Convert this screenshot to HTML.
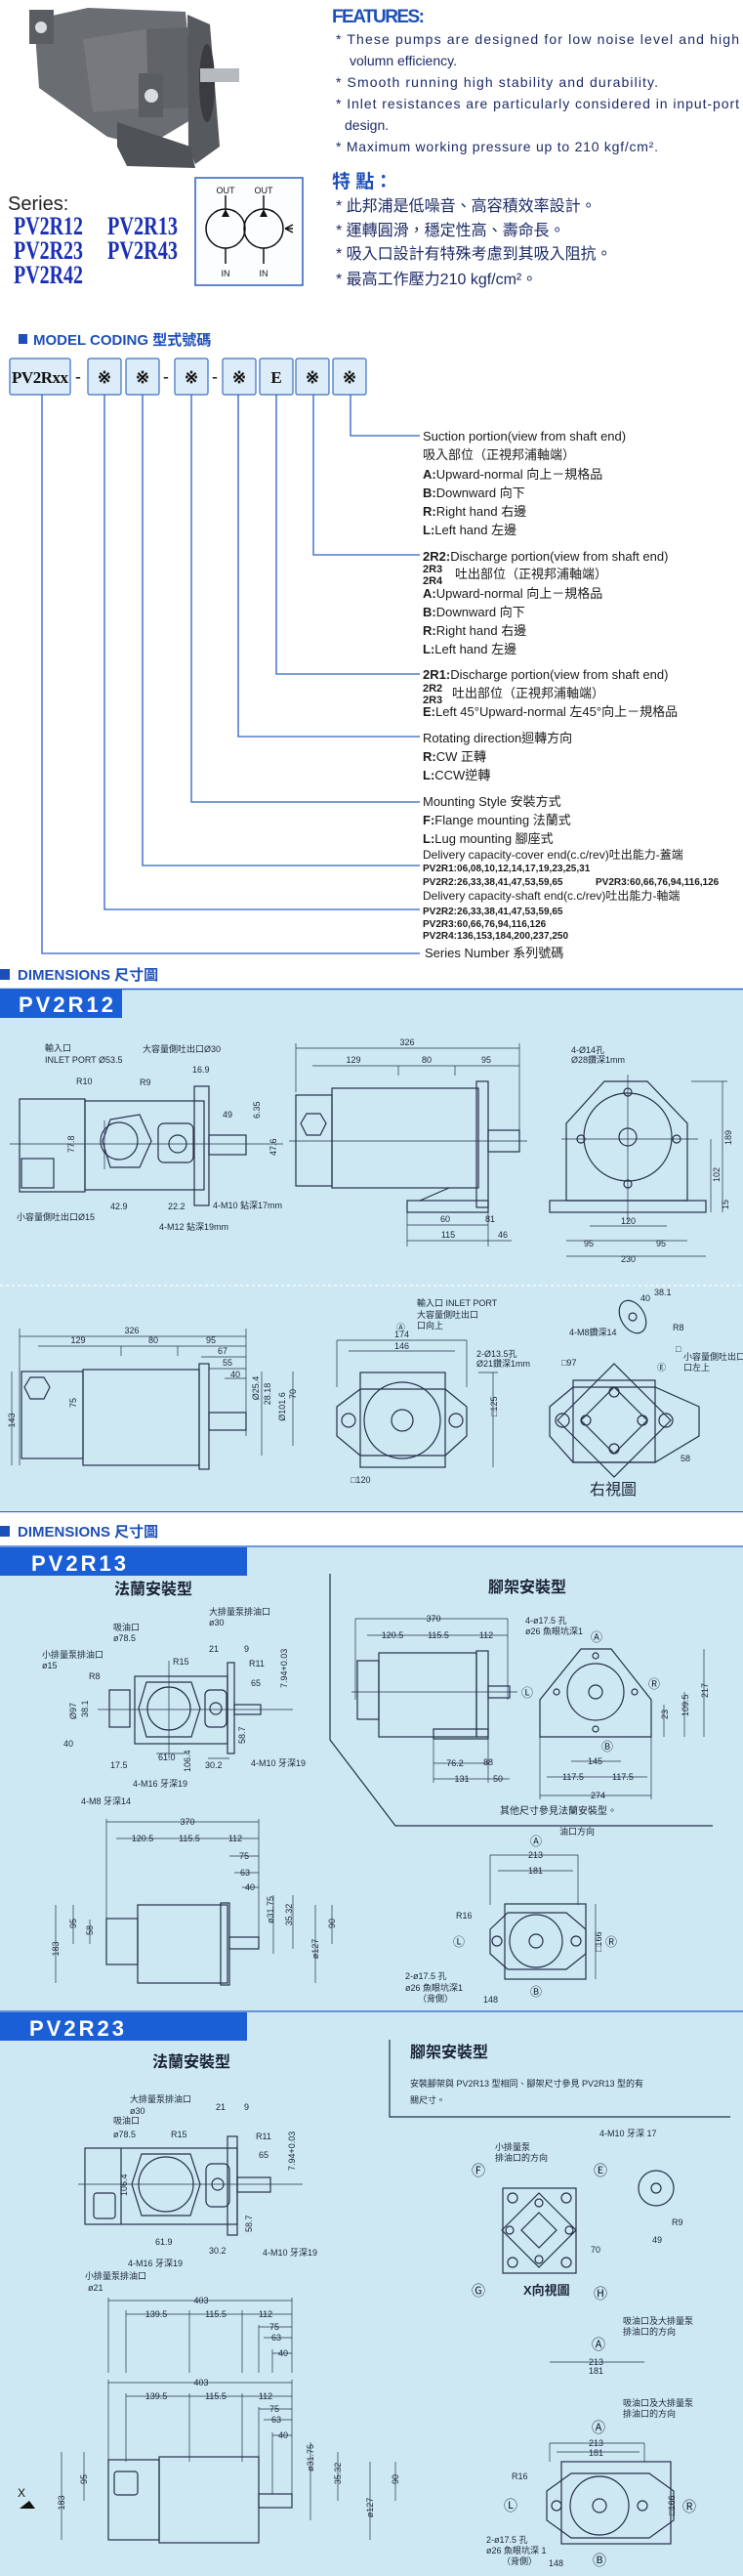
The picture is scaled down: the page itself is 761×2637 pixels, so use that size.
<!DOCTYPE html>
<html><head><meta charset="utf-8"><style>
html,body{margin:0;padding:0;background:#fff}
svg{display:block}
.l{stroke:#26304a;fill:none;stroke-width:1.2}
.d{stroke:#26304a;fill:none;stroke-width:.7}
.t{font-family:"Liberation Sans","Noto Sans CJK TC",sans-serif;font-size:9px;fill:#1b2438}
.m{font-family:"Liberation Sans","Noto Sans CJK TC",sans-serif;font-size:13px;fill:#1a1a1a}
.mb{font-family:"Liberation Sans","Noto Sans CJK TC",sans-serif;font-size:10px;font-weight:bold;fill:#1a1a1a}
.ft{font-family:"Liberation Sans","Noto Sans CJK TC",sans-serif;font-size:14px;fill:#1c2b66}
.fc{font-family:"Liberation Sans","Noto Sans CJK TC",sans-serif;font-size:16px;fill:#1c2b66}
.h{font-family:"Liberation Sans","Noto Sans CJK TC",sans-serif;font-size:15px;font-weight:bold;fill:#1d4fb8}
.tab{font-family:"Liberation Sans",sans-serif;font-size:22px;font-weight:bold;fill:#fff;letter-spacing:3px}
.ser{font-family:"Liberation Serif",serif;font-size:26px;font-weight:bold;fill:#1a2fb5}
.cn{font-family:"Liberation Sans","Noto Sans CJK TC",sans-serif;font-size:16px;font-weight:bold;fill:#1b2438}
</style></head><body>
<svg width="761" height="2637" viewBox="0 0 761 2637" xmlns="http://www.w3.org/2000/svg">
<rect width="761" height="2637" fill="#fff"/>

<!-- pump photo -->
<polygon points="35,20 90,8 190,12 200,120 150,150 110,140 40,90" fill="#6a6d72"/>
<polygon points="85,40 150,30 152,110 95,115" fill="#77797e"/>
<polygon points="150,30 192,28 195,110 152,112" fill="#606367"/>
<polygon points="192,15 215,25 225,150 200,168 193,150" fill="#56595d"/>
<ellipse cx="212" cy="85" rx="8" ry="40" fill="#3a3c3f"/>
<rect x="205" y="70" width="40" height="14" fill="#b6b9bd"/>
<polygon points="120,125 195,150 200,172 130,170 120,150" fill="#4f5256"/>
<rect x="30" y="10" width="25" height="35" fill="#5a5d62"/>
<circle cx="42" cy="28" r="6" fill="#d9dce0"/>
<rect x="142" y="75" width="25" height="45" fill="#5a5d62"/>
<circle cx="155" cy="98" r="7" fill="#d9dce0"/>

<!-- features -->
<text x="340" y="23" font-family="Liberation Sans,sans-serif" font-size="19" font-weight="bold" fill="#1d4fb8" textLength="95">FEATURES:</text>
<g class="ft">
<text x="344" y="45" textLength="413">* These pumps are designed for low noise level and high</text>
<text x="358" y="67">volumn efficiency.</text>
<text x="344" y="89" textLength="330">* Smooth running high stability and durability.</text>
<text x="344" y="111" textLength="413">* Inlet resistances are particularly considered in input-port</text>
<text x="353" y="133">design.</text>
<text x="344" y="155" textLength="330">* Maximum working pressure up to 210 kgf/cm².</text>
</g>
<text x="340" y="192" font-family="Liberation Sans,Noto Sans CJK TC,sans-serif" font-size="19" font-weight="bold" fill="#1d4fb8">特 點：</text>
<g class="fc">
<text x="344" y="216">* 此邦浦是低噪音、高容積效率設計。</text>
<text x="344" y="241">* 運轉圓滑，穩定性高、壽命長。</text>
<text x="344" y="265">* 吸入口設計有特殊考慮到其吸入阻抗。</text>
<text x="344" y="291">* 最高工作壓力210 kgf/cm²。</text>
</g>

<!-- series -->
<text x="8" y="215" font-family="Liberation Sans,sans-serif" font-size="20" fill="#222">Series:</text>
<text class="ser" x="14" y="240" textLength="71" lengthAdjust="spacingAndGlyphs">PV2R12</text>
<text class="ser" x="110" y="240" textLength="72" lengthAdjust="spacingAndGlyphs">PV2R13</text>
<text class="ser" x="14" y="265" textLength="71" lengthAdjust="spacingAndGlyphs">PV2R23</text>
<text class="ser" x="110" y="265" textLength="72" lengthAdjust="spacingAndGlyphs">PV2R43</text>
<text class="ser" x="14" y="290" textLength="71" lengthAdjust="spacingAndGlyphs">PV2R42</text>

<rect x="200" y="182" width="110" height="110" fill="#fbfdff" stroke="#2f5fc0" stroke-width="1.5"/>
<g stroke="#111" stroke-width="1.5" fill="none">
<circle cx="231" cy="234" r="20"/><circle cx="270" cy="234" r="20"/>
<line x1="231" y1="200" x2="231" y2="214"/><line x1="270" y1="200" x2="270" y2="214"/>
<line x1="231" y1="254" x2="231" y2="270"/><line x1="270" y1="254" x2="270" y2="270"/>
<path d="M292 234 l8 -4 M292 234 l8 0 M292 234 l8 4"/>
</g>
<polygon points="231,214 227,222 235,222" fill="#111"/><polygon points="270,214 266,222 274,222" fill="#111"/>
<g font-family="Liberation Sans,sans-serif" font-size="9" fill="#111" text-anchor="middle">
<text x="231" y="198">OUT</text><text x="270" y="198">OUT</text><text x="231" y="283">IN</text><text x="270" y="283">IN</text></g>

<!-- model coding -->
<rect x="19" y="342" width="9" height="10" fill="#1d4fb8"/>
<text class="h" x="34" y="353" font-size="14">MODEL CODING 型式號碼</text>
<g fill="#dcecf8" stroke="#3b6fc4" stroke-width="1.2">
<rect x="10" y="367" width="62" height="37" rx="2"/>
<rect x="90" y="367" width="34" height="37" rx="2"/><rect x="129" y="367" width="34" height="37" rx="2"/>
<rect x="179" y="367" width="34" height="37" rx="2"/><rect x="228" y="367" width="34" height="37" rx="2"/>
<rect x="266" y="367" width="34" height="37" rx="2"/><rect x="303" y="367" width="34" height="37" rx="2"/><rect x="341" y="367" width="34" height="37" rx="2"/>
</g>
<g font-family="Liberation Serif,serif" font-weight="bold" font-size="17" fill="#111" text-anchor="middle">
<text x="41" y="392" textLength="58">PV2Rxx</text><text x="80" y="391">-</text><text x="170" y="391">-</text><text x="220" y="391">-</text>
<text x="107" y="392">※</text><text x="146" y="392">※</text><text x="196" y="392">※</text><text x="245" y="392">※</text>
<text x="283" y="392">E</text><text x="320" y="392">※</text><text x="358" y="392">※</text>
</g>
<g stroke="#2a60c8" stroke-width="1.3" fill="none">
<path d="M359 404 V446 H430"/><path d="M321 404 V568 H430"/><path d="M283 404 V690 H430"/>
<path d="M244 404 V754 H430"/><path d="M196 404 V821 H430"/><path d="M146 404 V886 H430"/>
<path d="M107 404 V931 H430"/><path d="M43 404 V976 H430"/>
</g>
<g class="m">
<text x="433" y="451">Suction portion(view from shaft end)</text>
<text x="433" y="470">吸入部位（正視邦浦軸端）</text>
<text x="433" y="490"><tspan font-weight="bold">A:</tspan>Upward-normal 向上－規格品</text>
<text x="433" y="509"><tspan font-weight="bold">B:</tspan>Downward 向下</text>
<text x="433" y="528"><tspan font-weight="bold">R:</tspan>Right hand 右邊</text>
<text x="433" y="547"><tspan font-weight="bold">L:</tspan>Left hand 左邊</text>
<text x="433" y="574"><tspan font-weight="bold">2R2:</tspan>Discharge portion(view from shaft end)</text>
<text x="433" y="586" font-weight="bold" font-size="11">2R3</text>
<text x="466" y="592">吐出部位（正視邦浦軸端）</text>
<text x="433" y="598" font-weight="bold" font-size="11">2R4</text>
<text x="433" y="612"><tspan font-weight="bold">A:</tspan>Upward-normal 向上－規格品</text>
<text x="433" y="631"><tspan font-weight="bold">B:</tspan>Downward 向下</text>
<text x="433" y="650"><tspan font-weight="bold">R:</tspan>Right hand 右邊</text>
<text x="433" y="669"><tspan font-weight="bold">L:</tspan>Left hand 左邊</text>
<text x="433" y="695"><tspan font-weight="bold">2R1:</tspan>Discharge portion(view from shaft end)</text>
<text x="433" y="708" font-weight="bold" font-size="11">2R2</text>
<text x="463" y="714">吐出部位（正視邦浦軸端）</text>
<text x="433" y="720" font-weight="bold" font-size="11">2R3</text>
<text x="433" y="733"><tspan font-weight="bold">E:</tspan>Left 45°Upward-normal 左45°向上－規格品</text>
<text x="433" y="760">Rotating direction迴轉方向</text>
<text x="433" y="779"><tspan font-weight="bold">R:</tspan>CW 正轉</text>
<text x="433" y="798"><tspan font-weight="bold">L:</tspan>CCW逆轉</text>
<text x="433" y="825">Mounting Style 安裝方式</text>
<text x="433" y="844"><tspan font-weight="bold">F:</tspan>Flange mounting 法蘭式</text>
<text x="433" y="863"><tspan font-weight="bold">L:</tspan>Lug mounting 腳座式</text>
<text x="433" y="879" font-size="12">Delivery capacity-cover end(c.c/rev)吐出能力-蓋端</text>
<text x="433" y="921" font-size="12">Delivery capacity-shaft end(c.c/rev)吐出能力-軸端</text>
<text x="435" y="980">Series Number 系列號碼</text>
</g>
<g class="mb">
<text x="433" y="892">PV2R1:06,08,10,12,14,17,19,23,25,31</text>
<text x="433" y="906">PV2R2:26,33,38,41,47,53,59,65</text><text x="610" y="906">PV2R3:60,66,76,94,116,126</text>
<text x="433" y="936">PV2R2:26,33,38,41,47,53,59,65</text>
<text x="433" y="949">PV2R3:60,66,76,94,116,126</text>
<text x="433" y="961">PV2R4:136,153,184,200,237,250</text>
</g>

<!-- DIMENSIONS PV2R12 -->
<rect x="0" y="992" width="10" height="11" fill="#1d4fb8"/>
<text class="h" x="18" y="1003">DIMENSIONS 尺寸圖</text>
<rect x="0" y="1013" width="761" height="533" fill="#cde8f3"/>
<line x1="0" y1="1012.5" x2="761" y2="1012.5" stroke="#2a60c8" stroke-width="1.5"/>
<rect x="0" y="1013" width="125" height="29" fill="#1b5fd6"/>
<text class="tab" x="19" y="1036">PV2R12</text>

<g class="l">
<rect x="20" y="1125" width="67" height="95"/><rect x="87" y="1127" width="122" height="91"/>
<rect x="199" y="1112" width="15" height="122"/><rect x="214" y="1162" width="38" height="20"/>
<polygon points="105,1168 113,1146 143,1141 155,1168 143,1195 113,1195"/>
<circle cx="122" cy="1168" r="19"/>
<rect x="162" y="1150" width="36" height="40" rx="6"/><circle cx="182" cy="1171" r="9"/>
<rect x="22" y="1186" width="33" height="30"/>
</g>
<g class="d"><path d="M10 1171 H290 M107 1147 V1197"/></g>
<g class="t">
<text x="46" y="1076">輸入口</text><text x="46" y="1088">INLET PORT Ø53.5</text>
<text x="146" y="1077">大容量側吐出口Ø30</text><text x="197" y="1098">16.9</text>
<text x="78" y="1110">R10</text><text x="143" y="1111">R9</text><text x="228" y="1144">49</text>
<text transform="translate(266,1145) rotate(-90)">6.35</text>
<text transform="translate(76,1180) rotate(-90)">77.8</text>
<text transform="translate(283,1183) rotate(-90)">47.6</text>
<text x="113" y="1238">42.9</text><text x="172" y="1238">22.2</text>
<text x="218" y="1237">4-M10 鉆深17mm</text><text x="17" y="1249">小容量側吐出口Ø15</text>
<text x="163" y="1259">4-M12 鉆深19mm</text>
</g>
<g class="l">
<rect x="303" y="1121" width="37" height="93"/><rect x="340" y="1114" width="150" height="102"/>
<rect x="488" y="1107" width="12" height="129"/><rect x="500" y="1157" width="32" height="22"/>
<rect x="417" y="1229" width="83" height="12"/>
<polygon points="308,1150 314,1140 328,1140 334,1150 328,1162 314,1162"/>
<path d="M460 1216 L430 1229"/>
</g>
<g class="d"><path d="M303 1073 H532 M320 1091 H532 M408 1091 v10 M466 1091 v10 M303 1068 v50 M532 1068 v90 M417 1254 H500 M417 1270 H524 M417 1241 v35 M500 1241 v35 M296 1168 H540"/></g>
<g class="t" text-anchor="middle">
<text x="417" y="1070">326</text><text x="362" y="1088">129</text><text x="437" y="1088">80</text><text x="498" y="1088">95</text>
<text x="456" y="1251">60</text><text x="502" y="1251">81</text><text x="459" y="1267">115</text><text x="515" y="1267">46</text>
</g>
<g class="l">
<polygon points="619,1107 663,1107 704,1150 704,1229 580,1229 580,1150"/>
<rect x="563" y="1229" width="160" height="12"/>
<circle cx="643" cy="1164" r="45"/><circle cx="643" cy="1164" r="9"/>
<circle cx="643" cy="1118" r="4"/><circle cx="643" cy="1212" r="4"/><circle cx="595" cy="1166" r="4"/><circle cx="693" cy="1166" r="4"/>
</g>
<g class="d"><path d="M575 1166 H715 M643 1100 V1250 M580 1286 H723 M580 1270 H704 M604 1255 H683 M740 1107 V1241 M728 1166 V1241 M708 1107 H745"/></g>
<g class="t">
<text x="585" y="1078">4-Ø14孔</text><text x="585" y="1088">Ø28鑽深1mm</text>
<text transform="translate(749,1172) rotate(-90)">189</text>
<text transform="translate(737,1210) rotate(-90)">102</text>
<text transform="translate(746,1238) rotate(-90)">15</text>
<text x="636" y="1253">120</text><text x="598" y="1276">95</text><text x="672" y="1276">95</text><text x="636" y="1292">230</text>
</g>
<line x1="0" y1="1316" x2="761" y2="1316" stroke="#fff" stroke-width="1.2" stroke-dasharray="3,3"/>
<g class="l">
<rect x="22" y="1404" width="63" height="89"/><rect x="85" y="1402" width="119" height="98"/>
<rect x="204" y="1396" width="10" height="108"/><rect x="214" y="1446" width="38" height="18"/>
<polygon points="25,1420 31,1410 45,1410 51,1420 45,1432 31,1432"/>
</g>
<g class="d"><path d="M20 1368 H252 M39 1378 H252 M124 1378 v10 M182 1378 v10 M206 1389 H252 M214 1401 H252 M230 1411 H252 M20 1360 V1500 M252 1360 V1470 M12 1404 V1500 M268 1404 V1490 M300 1404 V1480"/></g>
<g class="t" text-anchor="middle">
<text x="135" y="1365">326</text><text x="80" y="1375">129</text><text x="157" y="1375">80</text><text x="216" y="1375">95</text>
<text x="228" y="1386">67</text><text x="233" y="1398">55</text><text x="241" y="1410">40</text>
<text transform="translate(15,1454) rotate(-90)">143</text><text transform="translate(78,1436) rotate(-90)">75</text>
<text transform="translate(265,1421) rotate(-90)">Ø25.4</text><text transform="translate(277,1427) rotate(-90)">28.18</text>
<text transform="translate(292,1440) rotate(-90)">Ø101.6</text><text transform="translate(303,1427) rotate(-90)">70</text>
</g>
<g class="l">
<rect x="369" y="1405" width="87" height="97"/>
<polygon points="345,1440 369,1422 456,1422 478,1440 478,1470 456,1490 369,1490 345,1470"/>
<circle cx="412" cy="1454" r="39"/><circle cx="412" cy="1454" r="11"/>
<circle cx="357" cy="1454" r="7"/><circle cx="467" cy="1454" r="7"/>
</g>
<g class="d"><path d="M345 1372 H478 M357 1383 H466 M345 1372 V1420 M478 1372 V1420 M490 1405 H510 M505 1405 V1502"/></g>
<g class="t">
<text x="427" y="1337">輸入口 INLET PORT</text><text x="427" y="1349">大容量側吐出口</text><text x="427" y="1360">口向上</text>
<text x="406" y="1362">Ⓐ</text><text x="404" y="1369">174</text><text x="404" y="1381">146</text>
<text x="488" y="1389">2-Ø13.5孔</text><text x="488" y="1399">Ø21鑽深1mm</text>
<text transform="translate(509,1450) rotate(-90)">□125</text><text x="359" y="1518">□120</text>
</g>
<g class="l">
<rect x="587" y="1413" width="84" height="84"/>
<polygon points="563,1440 587,1420 671,1420 716,1440 716,1470 671,1497 587,1497 563,1470"/>
<polygon points="629,1396 687,1454 629,1512 571,1454"/>
<polygon points="629,1420 663,1454 629,1488 595,1454"/>
<circle cx="576" cy="1454" r="7"/><circle cx="682" cy="1454" r="7"/>
<circle cx="629" cy="1425" r="5"/><circle cx="629" cy="1483" r="5"/><circle cx="600" cy="1454" r="5"/><circle cx="658" cy="1454" r="5"/>
<ellipse cx="648" cy="1348" rx="12" ry="18" transform="rotate(-30 648 1348)"/><circle cx="648" cy="1348" r="4"/>
</g>
<g class="t">
<text x="670" y="1326">38.1</text><text x="656" y="1332">40</text><text x="689" y="1362">R8</text>
<text x="583" y="1367">4-M8鑽深14</text><text x="575" y="1398">□97</text>
<text x="692" y="1384">□</text><text x="700" y="1392">小容量側吐出口</text><text x="673" y="1403">Ⓔ</text><text x="700" y="1403">口左上</text>
<text x="697" y="1496">58</text>
<text x="604" y="1530" font-size="16">右視圖</text>
</g>

<!-- DIMENSIONS PV2R13 -->
<line x1="0" y1="1547.5" x2="761" y2="1547.5" stroke="#2a60c8" stroke-width="1.2"/>
<rect x="0" y="1562" width="10" height="11" fill="#1d4fb8"/>
<text class="h" x="18" y="1573">DIMENSIONS 尺寸圖</text>
<rect x="0" y="1583" width="761" height="1054" fill="#cde8f3"/>
<line x1="0" y1="1583" x2="761" y2="1583" stroke="#2a60c8" stroke-width="1.2"/>
<rect x="0" y="1584" width="253" height="29" fill="#1b5fd6"/>
<text class="tab" x="32" y="1608">PV2R13</text>
<path d="M338 1611 V1781 L405 1869 H730" class="l"/>
<text class="cn" x="117" y="1632">法蘭安裝型</text><text class="cn" x="500" y="1630">腳架安裝型</text>
<g class="l">
<rect x="112" y="1730" width="21" height="38"/><rect x="138" y="1716" width="95" height="69"/>
<rect x="233" y="1702" width="7" height="93"/><rect x="240" y="1745" width="27" height="10"/>
<polygon points="150,1722 196,1722 205,1749 196,1778 150,1778 142,1749"/>
<circle cx="173" cy="1749" r="22"/>
<rect x="210" y="1730" width="22" height="38" rx="5"/><circle cx="221" cy="1749" r="6"/>
</g>
<g class="d"><path d="M100 1750 H300 M173 1700 V1800 M160 1795 H190 M213 1800 H235"/></g>
<g class="t">
<text x="214" y="1653">大排量泵排油口</text><text x="214" y="1664">ø30</text>
<text x="116" y="1669">吸油口</text><text x="116" y="1680">ø78.5</text>
<text x="214" y="1691">21</text><text x="250" y="1691">9</text>
<text x="43" y="1697">小排量泵排油口</text><text x="43" y="1708">ø15</text>
<text x="177" y="1704">R15</text><text x="255" y="1706">R11</text><text x="91" y="1719">R8</text><text x="257" y="1726">65</text>
<text transform="translate(294,1728) rotate(-90)">7.94+0.03</text>
<text transform="translate(78,1760) rotate(-90)">Ø97</text><text transform="translate(90,1758) rotate(-90)">38.1</text>
<text transform="translate(251,1785) rotate(-90)">58.7</text><text transform="translate(195,1814) rotate(-90)">106.4</text>
<text x="65" y="1788">40</text><text x="113" y="1810">17.5</text><text x="162" y="1802">61.0</text><text x="210" y="1810">30.2</text>
<text x="257" y="1808">4-M10 牙深19</text><text x="136" y="1829">4-M16 牙深19</text><text x="83" y="1847">4-M8 牙深14</text>
</g>
<g class="l">
<rect x="366" y="1700" width="22" height="60"/><rect x="388" y="1692" width="100" height="86"/>
<rect x="488" y="1690" width="12" height="88"/><rect x="500" y="1726" width="22" height="12"/>
<rect x="444" y="1770" width="56" height="10"/>
</g>
<g class="d"><path d="M364 1657 H520 M376 1674 H520 M444 1805 H500 M444 1821 H522 M364 1657 V1740 M520 1657 V1740 M444 1780 V1825 M500 1780 V1825 M360 1732 H530"/></g>
<g class="t" text-anchor="middle">
<text x="444" y="1660">370</text><text x="402" y="1677">120.5</text><text x="449" y="1677">115.5</text><text x="498" y="1677">112</text>
<text x="466" y="1808">76.2</text><text x="500" y="1807">88</text><text x="473" y="1824">131</text><text x="510" y="1824">50</text>
</g>
<g class="l">
<polygon points="595,1688 626,1688 667,1740 667,1778 553,1778 553,1740"/>
<circle cx="610" cy="1732" r="29"/><circle cx="610" cy="1732" r="7"/>
<circle cx="610" cy="1695" r="3"/><circle cx="610" cy="1770" r="3"/><circle cx="570" cy="1732" r="3"/><circle cx="650" cy="1732" r="3"/>
</g>
<g class="d"><path d="M553 1838 H667 M560 1819 H663 M585 1803 H636 M721 1688 V1778 M701 1732 V1778 M680 1745 V1778 M553 1778 V1842 M667 1778 V1842"/></g>
<g class="t">
<text x="538" y="1662">4-ø17.5 孔</text><text x="538" y="1673">ø26 魚眼坑深1</text>
<text x="605" y="1680" font-size="12">Ⓐ</text><text x="664" y="1728" font-size="12">Ⓡ</text><text x="534" y="1737" font-size="12">Ⓛ</text><text x="616" y="1792" font-size="12">Ⓑ</text>
<text transform="translate(725,1738) rotate(-90)">217</text><text transform="translate(705,1757) rotate(-90)">109.5</text>
<text transform="translate(684,1760) rotate(-90)">23</text>
<text x="602" y="1806">145</text><text x="576" y="1822">117.5</text><text x="627" y="1822">117.5</text><text x="605" y="1841">274</text>
<text x="512" y="1857" font-size="10">其他尺寸參見法蘭安裝型。</text>
</g>
<g class="l">
<rect x="109" y="1964" width="32" height="47"/><rect x="141" y="1950" width="92" height="80"/>
<rect x="226" y="1948" width="9" height="84"/><rect x="235" y="1983" width="30" height="12"/>
</g>
<g class="d"><path d="M109 1865 H265 M119 1882 H265 M235 1900 H265 M240 1917 H265 M248 1932 H265 M109 1862 V1964 M265 1862 V1990 M57 1950 V2030 M75 1950 V1990 M92 1965 V1990 M280 1940 V2000 M300 1940 V1995 M323 1950 V2030 M340 1950 V1990"/></g>
<g class="t" text-anchor="middle">
<text x="192" y="1868">370</text><text x="146" y="1885">120.5</text><text x="194" y="1885">115.5</text><text x="241" y="1885">112</text>
<text x="250" y="1903">75</text><text x="251" y="1920">63</text><text x="256" y="1935">40</text>
<text transform="translate(60,1995) rotate(-90)">183</text><text transform="translate(78,1969) rotate(-90)">95</text>
<text transform="translate(95,1976) rotate(-90)">58</text><text transform="translate(280,1955) rotate(-90)">ø31.75</text>
<text transform="translate(299,1960) rotate(-90)">35.32</text><text transform="translate(326,1995) rotate(-90)">ø127</text>
<text transform="translate(343,1969) rotate(-90)">90</text>
</g>
<g class="l">
<rect x="517" y="1949" width="83" height="77"/>
<polygon points="502,1975 520,1958 580,1958 600,1975 600,2000 580,2016 520,2016 502,2000"/>
<circle cx="549" cy="1987" r="27"/><circle cx="549" cy="1987" r="7"/>
<circle cx="509" cy="1987" r="5"/><circle cx="590" cy="1987" r="5"/>
</g>
<g class="d"><path d="M502 1899 H592 M510 1915 H587 M502 1899 V1950 M592 1899 V1950 M610 1949 V2026"/></g>
<g class="t">
<text x="543" y="1889" font-size="12">Ⓐ</text><text x="573" y="1878">油口方向</text>
<text x="541" y="1902">213</text><text x="541" y="1918">181</text>
<text x="464" y="1992" font-size="12">Ⓛ</text><text x="620" y="1992" font-size="12">Ⓡ</text><text x="543" y="2043" font-size="12">Ⓑ</text>
<text x="467" y="1964">R16</text><text x="415" y="2026">2-ø17.5 孔</text><text x="415" y="2038">ø26 魚眼坑深1</text><text x="428" y="2049">（背側）</text>
<text x="495" y="2050">148</text><text transform="translate(616,1998) rotate(-90)">□166</text>
</g>

<!-- PV2R23 -->
<line x1="0" y1="2059" x2="761" y2="2059" stroke="#2a60c8" stroke-width="1.2"/>
<rect x="0" y="2060" width="253" height="29" fill="#1b5fd6"/>
<text class="tab" x="30" y="2084">PV2R23</text>
<text class="cn" x="156" y="2116">法蘭安裝型</text>
<path d="M399 2088 V2167 H748" class="l"/>
<text class="cn" x="420" y="2106">腳架安裝型</text>
<text class="t" x="420" y="2136" font-size="11">安裝腳架與 PV2R13 型相同、腳架尺寸參見 PV2R13 型的有</text>
<text class="t" x="420" y="2153" font-size="11">關尺寸。</text>
<g class="l">
<rect x="87" y="2199" width="156" height="78"/><line x1="124" y1="2199" x2="124" y2="2277"/>
<rect x="233" y="2187" width="10" height="101"/><rect x="243" y="2229" width="34" height="15"/>
<polygon points="145,2205 195,2205 205,2236 195,2268 145,2268 135,2236"/>
<circle cx="170" cy="2236" r="28"/>
<rect x="211" y="2215" width="24" height="44" rx="6"/><circle cx="223" cy="2236" r="6"/>
<rect x="96" y="2245" width="22" height="26" rx="3"/>
</g>
<g class="d"><path d="M80 2236 H310"/></g>
<g class="t">
<text x="133" y="2152">大排量泵排油口</text><text x="133" y="2164">ø30</text><text x="116" y="2174">吸油口</text>
<text x="221" y="2160">21</text><text x="250" y="2160">9</text><text x="116" y="2188">ø78.5</text><text x="175" y="2188">R15</text>
<text x="262" y="2190">R11</text><text x="265" y="2209">65</text>
<text transform="translate(302,2222) rotate(-90)">7.94+0.03</text><text transform="translate(130,2248) rotate(-90)">106.4</text>
<text transform="translate(258,2285) rotate(-90)">58.7</text>
<text x="159" y="2298">61.9</text><text x="214" y="2307">30.2</text><text x="269" y="2309">4-M10 牙深19</text>
<text x="131" y="2320">4-M16 牙深19</text><text x="87" y="2333">小排量泵排油口</text><text x="90" y="2345">ø21</text>
</g>
<g class="l">
<rect x="515" y="2240" width="75" height="87"/>
<polygon points="552,2245 590,2283 552,2321 514,2283"/>
<polygon points="552,2265 570,2283 552,2301 534,2283"/>
<circle cx="525" cy="2250" r="5"/><circle cx="580" cy="2250" r="5"/><circle cx="525" cy="2316" r="5"/><circle cx="580" cy="2316" r="5"/>
<circle cx="552" cy="2255" r="4"/><circle cx="552" cy="2313" r="4"/><circle cx="522" cy="2283" r="4"/><circle cx="583" cy="2283" r="4"/>
<circle cx="672" cy="2240" r="18"/><circle cx="672" cy="2240" r="5"/>
</g>
<g class="t">
<text x="483" y="2227" font-size="14">Ⓕ</text><text x="507" y="2201">小排量泵</text><text x="507" y="2212">排油口的方向</text>
<text x="608" y="2227" font-size="14">Ⓔ</text><text x="614" y="2187">4-M10 牙深 17</text>
<text x="688" y="2278">R9</text><text x="668" y="2296">49</text><text x="605" y="2306">70</text>
<text x="483" y="2350" font-size="14">Ⓖ</text><text x="536" y="2349" font-size="13" font-weight="bold">X向視圖</text><text x="608" y="2353" font-size="14">Ⓗ</text>
<text x="638" y="2379">吸油口及大排量泵</text><text x="638" y="2390">排油口的方向</text>
<text x="606" y="2405" font-size="14">Ⓐ</text><text x="603" y="2421">213</text><text x="603" y="2430">181</text>
<text x="638" y="2463">吸油口及大排量泵</text><text x="638" y="2474">排油口的方向</text>
<text x="606" y="2490" font-size="14">Ⓐ</text><text x="603" y="2504">213</text><text x="603" y="2514">181</text>
</g>
<g class="d"><path d="M563 2418 H660 M563 2501 H660 M570 2510 H655 M563 2501 V2520 M660 2501 V2520"/></g>
<g class="l">
<rect x="575" y="2520" width="112" height="84"/>
<polygon points="560,2550 585,2532 665,2532 690,2550 690,2580 665,2598 585,2598 560,2580"/>
<circle cx="614" cy="2565" r="30"/><circle cx="614" cy="2565" r="7"/>
<circle cx="570" cy="2565" r="5"/><circle cx="658" cy="2565" r="5"/>
</g>
<g class="t">
<text x="516" y="2570" font-size="14">Ⓛ</text><text x="699" y="2571" font-size="14">Ⓡ</text><text x="607" y="2626" font-size="14">Ⓑ</text>
<text x="524" y="2538">R16</text><text x="498" y="2603">2-ø17.5 孔</text><text x="498" y="2614">ø26 魚眼坑深 1</text><text x="514" y="2625">（背側）</text>
<text x="562" y="2627">148</text><text transform="translate(691,2575) rotate(-90)">□166</text>
</g>
<g class="d"><path d="M111 2355 H299 M129 2369 H299 M265 2382 H299 M270 2393 H299 M279 2409 H299 M111 2352 V2429 M129 2365 V2429 M194 2365 V2429 M248 2365 V2429 M265 2380 V2429 M279 2405 V2429 M299 2352 V2429"/></g>
<g class="t" text-anchor="middle">
<text x="206" y="2358">403</text><text x="160" y="2372">139.5</text><text x="221" y="2372">115.5</text><text x="272" y="2372">112</text>
<text x="281" y="2385">75</text><text x="283" y="2396">63</text><text x="290" y="2412">40</text>
</g>
<g class="d"><path d="M111 2439 H299 M129 2453 H299 M265 2466 H299 M270 2477 H299 M279 2493 H299 M111 2436 V2600 M129 2450 V2520 M194 2450 V2520 M248 2450 V2520 M265 2464 V2520 M279 2490 V2553 M299 2436 V2553 M63 2510 V2600 M86 2510 V2560 M318 2500 V2580 M346 2510 V2560 M379 2520 V2600 M405 2520 V2560"/></g>
<g class="t" text-anchor="middle">
<text x="206" y="2442">403</text><text x="160" y="2456">139.5</text><text x="221" y="2456">115.5</text><text x="272" y="2456">112</text>
<text x="281" y="2469">75</text><text x="283" y="2480">63</text><text x="290" y="2496">40</text>
<text transform="translate(66,2562) rotate(-90)">183</text><text transform="translate(89,2538) rotate(-90)">95</text>
<text transform="translate(321,2516) rotate(-90)">ø31.75</text><text transform="translate(349,2532) rotate(-90)">35.32</text>
<text transform="translate(382,2567) rotate(-90)">ø127</text><text transform="translate(408,2538) rotate(-90)">90</text>
</g>
<g class="l">
<rect x="111" y="2518" width="52" height="82"/><rect x="163" y="2515" width="102" height="88"/>
<rect x="117" y="2530" width="24" height="24" rx="3"/><rect x="265" y="2553" width="34" height="14"/>
</g>
<text x="18" y="2556" font-family="Liberation Sans,sans-serif" font-size="12" fill="#111">X</text>
<polygon points="20,2568 36,2568 30,2560" fill="#111"/>
</svg>
</body></html>
